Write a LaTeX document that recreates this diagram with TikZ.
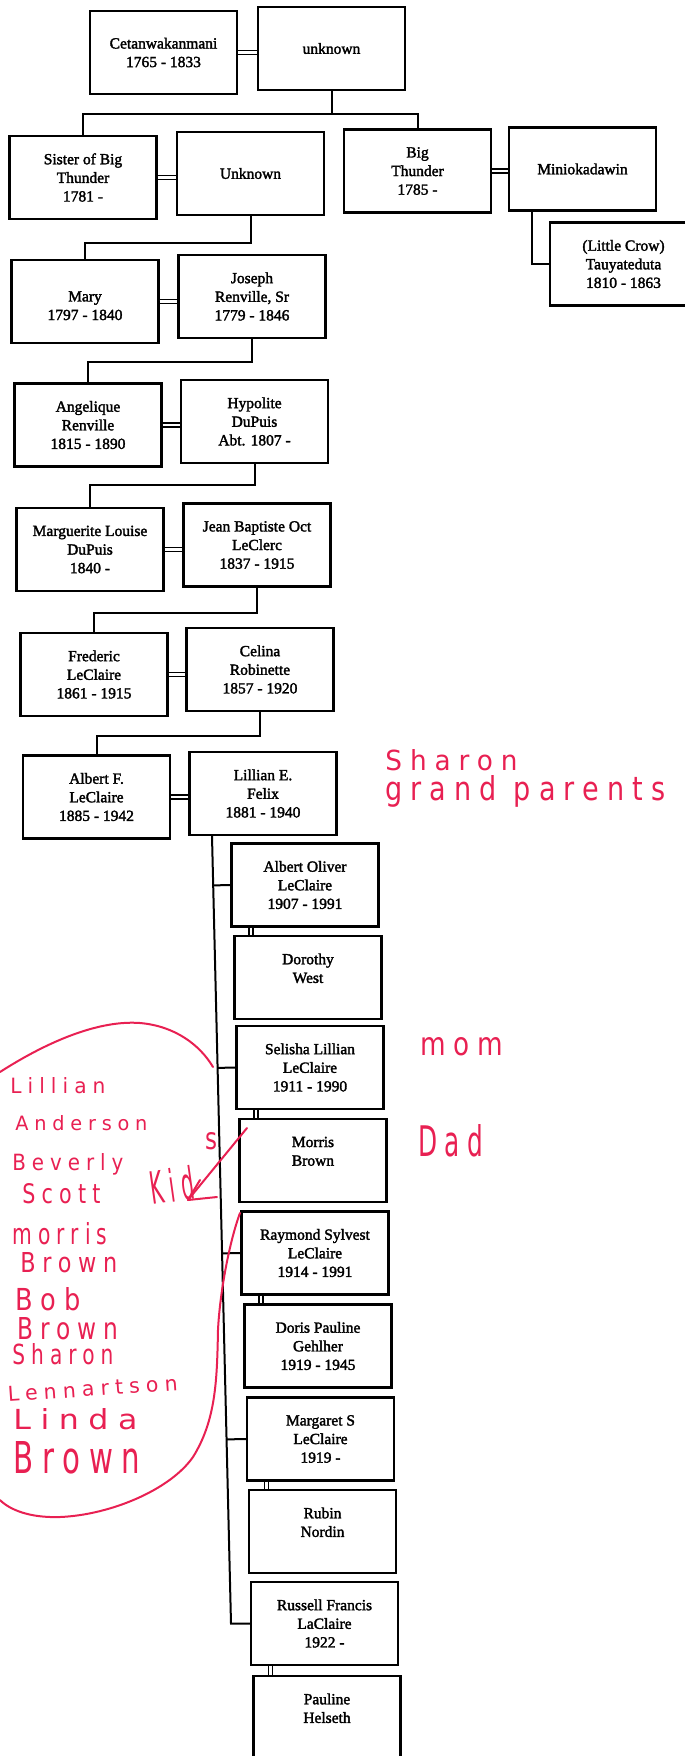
\documentclass[tikz,border=0pt]{standalone}
\usepackage{fontspec}
\usepackage{graphicx}
\setmainfont{Liberation Serif}
\newfontfamily\boxfont{Liberation Serif}[FakeBold=2]
\newfontfamily\hand{DejaVu Sans}[LetterSpace=30]
\usetikzlibrary{calc}
\definecolor{pen}{RGB}{232,32,82}
\tikzset{
 person/.style={draw, line width=1.1pt, minimum width=73.5pt, minimum height=41.5pt, inner sep=0pt, align=center, font=\boxfont\fontsize{7.75}{9.3}\selectfont},
 conn/.style={line width=1pt},
 marr/.style={double, double distance=1.3pt, line width=0.7pt},
 hw/.style={text=pen, inner sep=0pt, anchor=base west},
 redline/.style={draw=pen, line width=1pt, line cap=round, line join=round},
}
\begin{document}
\begin{tikzpicture}[x=0.5pt,y=-0.5pt]
\useasboundingbox (0,0) rectangle (685,1756);
\clip (0,0) rectangle (685,1756);
% boxes
\node[person] (cet) at (163.5,52.5) {Cetanwakanmani\\1765 - 1833};
\node[person] (unk1) at (331.5,48.5) {unknown};
\node[person] (sis) at (83,177.5) {Sister of Big\\Thunder\\1781 -};
\node[person] (unk2) at (250.5,173.5) {Unknown};
\node[person] (bigt) at (417.5,171) {Big\\Thunder\\1785 -};
\node[person] (mini) at (582.5,169) {Miniokadawin};
\node[person] (crow) at (623.5,264) {(Little Crow)\\Tauyateduta\\1810 - 1863};
\node[person] (mary) at (85,301.5) {\mbox{}\\Mary\\1797 - 1840};
\node[person] (jos) at (252,296.5) {Joseph\\Renville, Sr\\1779 - 1846};
\node[person] (ang) at (88,425) {Angelique\\Renville\\1815 - 1890};
\node[person] (hyp) at (254.5,421.5) {Hypolite\\DuPuis\\Abt. 1807 -};
\node[person] (marg) at (90,549.5) {Marguerite Louise\\DuPuis\\1840 -};
\node[person] (jb) at (257,545) {Jean Baptiste Oct\\LeClerc\\1837 - 1915};
\node[person] (fred) at (94,674.5) {Frederic\\LeClaire\\1861 - 1915};
\node[person] (cel) at (260,669.5) {Celina\\Robinette\\1857 - 1920};
\node[person] (alb) at (96.5,797) {Albert F.\\LeClaire\\1885 - 1942};
\node[person] (lil) at (263,793.5) {Lillian E.\\Felix\\1881 - 1940};
\node[person] (ao) at (305,885) {Albert Oliver\\LeClaire\\1907 - 1991};
\node[person] (dor) at (308,977.5) {Dorothy\\West\\\mbox{}};
\node[person] (sel) at (310,1067.5) {Selisha Lillian\\LeClaire\\1911 - 1990};
\node[person] (mor) at (313,1160.5) {Morris\\Brown\\\mbox{}};
\node[person] (ray) at (315,1253) {Raymond Sylvest\\LeClaire\\1914 - 1991};
\node[person] (dpg) at (318,1346) {Doris Pauline\\Gehlher\\1919 - 1945};
\node[person] (mgs) at (320.5,1439) {Margaret S\\LeClaire\\1919 -};
\node[person] (rub) at (322.5,1531.5) {Rubin\\Nordin\\\mbox{}};
\node[person] (rus) at (324.5,1623.5) {Russell Francis\\LaClaire\\1922 -};
\node[person] (pau) at (327,1717.5) {Pauline\\Helseth\\\mbox{}};
% marriages
\draw[marr] (cet.east) -- (cet.east -| unk1.west);
\draw[marr] (sis.east) -- (sis.east -| unk2.west);
\draw[marr] (bigt.east) -- (bigt.east -| mini.west);
\draw[marr] (mary.east) -- (mary.east -| jos.west);
\draw[marr] (ang.east) -- (ang.east -| hyp.west);
\draw[marr] (marg.east) -- (marg.east -| jb.west);
\draw[marr] (fred.east) -- (fred.east -| cel.west);
\draw[marr] (alb.east) -- (alb.east -| lil.west);
\foreach \a/\b in {ao/dor, sel/mor, ray/dpg, mgs/rub, rus/pau}
  \draw[marr] ([xshift=-27pt]\a.south) -- ([xshift=-27pt]\a.south |- \b.north);
% descents
\draw[conn] (unk1.south) -- ++(0,23) -| (sis.north);
\draw[conn] (unk1.south) -- ++(0,23) -| (bigt.north);
\draw[conn] (unk2.south) -- ++(0,27) -| (mary.north);
\draw[conn] (jos.south) -- ++(0,23) -| (ang.north);
\draw[conn] (hyp.south) -- ++(0,21) -| (marg.north);
\draw[conn] (jb.south) -- ++(0,25) -| (fred.north);
\draw[conn] (cel.south) -- ++(0,24) -| (alb.north);
\draw[conn] ([xshift=-25.25pt]mini.south) |- (crow.west);
\coordinate (t0) at ([xshift=-25.5pt]lil.south);
\coordinate (t1) at (231,1623.5);
\draw[conn] (t0) -- (t1) -- (rus.west);
\foreach \c in {ao,sel,ray,mgs}
  \draw[conn] (\c.west) -- ($(t0)!(\c.west)!(t1)$);
% handwriting
\node[hw] (h1) at (385,770) {\resizebox{66pt}{10.5pt}{\hand Sharon}};
\node[hw] (h2) at (385,800) {\resizebox{140pt}{12.5pt}{\hand grand parents}};
\node[hw] (h3) at (420,1055) {\resizebox{41.5pt}{9pt}{\hand mom}};
\node[hw] (h4) at (418,1156) {\resizebox{32.5pt}{16pt}{\hand Dad}};
\node[hw, rotate=8] (h5) at (152,1205) {\resizebox{22pt}{17pt}{\hand Kid}};
\node[hw] (h6) at (205,1149) {\resizebox{6pt}{8.5pt}{\hand s}};
\node[hw] (l1) at (10,1093) {\resizebox{47.5pt}{8pt}{\hand Lillian}};
\node[hw] (l2) at (15,1130) {\resizebox{66pt}{7.5pt}{\hand Anderson}};
\node[hw] (l3) at (12,1170) {\resizebox{55.5pt}{8.5pt}{\hand Beverly}};
\node[hw] (l4) at (22,1203) {\resizebox{39pt}{10pt}{\hand Scott}};
\node[hw] (l5) at (12,1244) {\resizebox{47.5pt}{11pt}{\hand morris}};
\node[hw] (l6) at (20,1272) {\resizebox{48.5pt}{10pt}{\hand Brown}};
\node[hw] (l7) at (15,1310) {\resizebox{32.5pt}{11.5pt}{\hand Bob}};
\node[hw] (l8) at (17,1339) {\resizebox{50.5pt}{11pt}{\hand Brown}};
\node[hw] (l9) at (12,1364) {\resizebox{50.5pt}{10.5pt}{\hand Sharon}};
\node[hw, rotate=4] (l10) at (8,1402) {\resizebox{85pt}{7.5pt}{\hand Lennartson}};
\node[hw] (l11) at (13,1429) {\resizebox{62pt}{10.5pt}{\hand Linda}};
\node[hw] (l12) at (13,1473) {\resizebox{63.5pt}{16pt}{\hand Brown}};
% arrow and loop
\draw[redline] (247,1128) -- (188,1200) -- (217,1197);
\draw[redline] (200,1180) -- (188,1200);
\draw[redline] (0,1072) .. controls (50,1040) and (100,1020) .. (140,1023) .. controls (175,1026) and (200,1045) .. (213,1067);
\draw[redline] (240,1213) .. controls (230,1240) and (220,1290) .. (218,1330) .. controls (217,1380) and (216,1420) .. (193,1457) .. controls (170,1490) and (110,1515) .. (60,1517) .. controls (30,1518) and (10,1510) .. (0,1500);
\end{tikzpicture}
\end{document}
